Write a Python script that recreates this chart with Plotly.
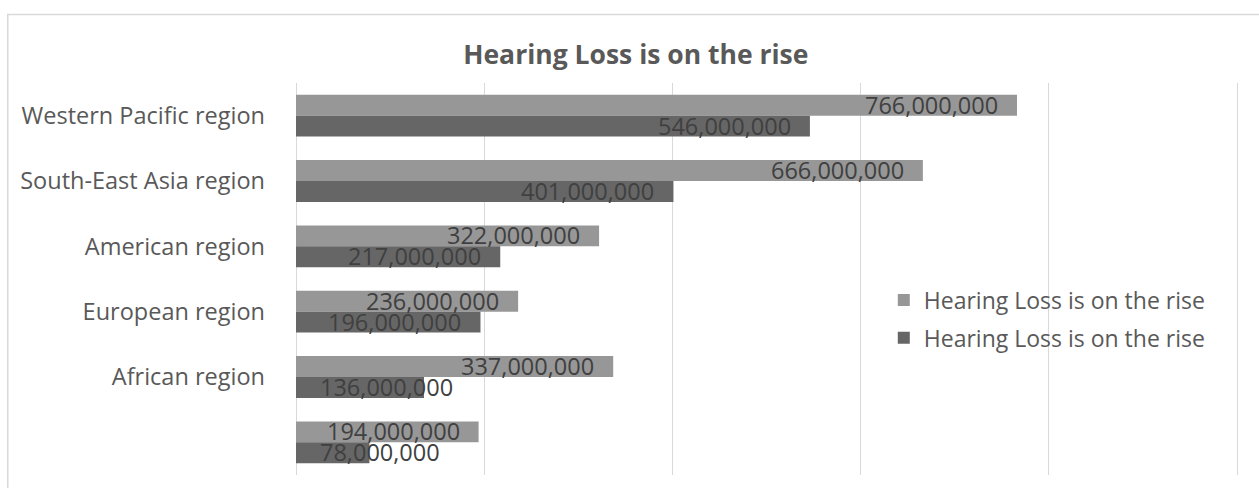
import plotly.graph_objects as go

categories = ["Western Pacific region", "South-East Asia region", "American region",
              "European region", "African region", " "]
series_a = [766000000, 666000000, 322000000, 236000000, 337000000, 194000000]
series_b = [546000000, 401000000, 217000000, 196000000, 136000000, 78000000]
series_names = ["Hearing Loss is on the rise", "Hearing Loss is on the rise"]
title_text = "Hearing Loss is on the rise"

FONT = "Open Sans"
LIGHT = "#979797"
DARK = "#666666"

fig = go.Figure()
fig.add_trace(go.Bar(y=categories, x=series_a, orientation="h", name=series_names[0],
                     marker=dict(color=LIGHT, line=dict(width=0)), legendgroup="a"))
fig.add_trace(go.Bar(y=categories, x=series_b, orientation="h", name=series_names[1],
                     marker=dict(color=DARK, line=dict(width=0)), legendgroup="b"))

annotations = []
for vals, shift in ((series_a, 11), (series_b, -10)):
    for cat, v in zip(categories, vals):
        inside = v >= 170000000
        annotations.append(dict(
            x=v if inside else 0, y=cat, xref="x", yref="y",
            text=f"{v:,}", showarrow=False,
            xanchor="right" if inside else "left",
            xshift=-17 if inside else 22, yshift=shift,
            font=dict(family=FONT, size=23.5, color="#404040"),
        ))

fig.update_layout(
    width=1259, height=488,
    margin=dict(l=296, r=18, t=83, b=13),
    paper_bgcolor="white", plot_bgcolor="white",
    barmode="group", bargap=0.36, bargroupgap=0,
    title=dict(text=title_text, x=0.505, xanchor="center", y=0.887, yanchor="middle",
               font=dict(family=FONT, size=26.5, color="#595959", weight="bold")),
    xaxis=dict(range=[0, 1004000000], dtick=200000000, showgrid=True,
               gridcolor="#d9d9d9", gridwidth=1, zeroline=True, zerolinecolor="#d9d9d9",
               zerolinewidth=1, showticklabels=False, showline=False, fixedrange=True),
    yaxis=dict(autorange="reversed", showgrid=False, showline=False,
               ticklabelstandoff=30,
               tickfont=dict(family=FONT, size=23.5, color="#595959")),
    legend=dict(x=0.622, xanchor="left", y=0.398, yanchor="middle",
                bgcolor="rgba(0,0,0,0)", traceorder="grouped", tracegroupgap=5,
                font=dict(family=FONT, size=23, color="#595959")),
    annotations=annotations,
    shapes=[dict(type="rect", xref="paper", yref="paper",
                 x0=-0.305, x1=1.03, y0=-0.06, y1=1.175,
                 line=dict(color="#d9d9d9", width=1.5), fillcolor="rgba(0,0,0,0)",
                 layer="below")],
    showlegend=True,
)

fig.write_html("out.html")
